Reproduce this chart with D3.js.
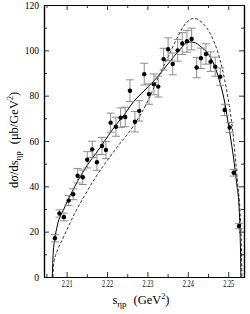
<!DOCTYPE html>
<html>
<head>
<meta charset="utf-8">
<script src="https://cdn.jsdelivr.net/npm/d3@7/dist/d3.min.js"></script>
<style>
  body { margin: 0; background: #fff; }
  svg { display: block; font-family: "Liberation Serif", "Times New Roman", serif; }
</style>
</head>
<body>
<svg id="chart" width="250" height="314"></svg>
<script>
// measured points: s (GeV^2), dsigma/ds, error
const sData = [2.20710, 2.20822, 2.20933, 2.21050, 2.21163, 2.21272, 2.21399, 2.21510, 2.21634, 2.21750,
               2.21874, 2.21973, 2.22089, 2.22220, 2.22337, 2.22450, 2.22567, 2.22691, 2.22797, 2.22921,
               2.23037, 2.23161, 2.23267, 2.23401, 2.23512, 2.23626, 2.23748, 2.23861, 2.23978, 2.24094,
               2.24218, 2.24324, 2.24448, 2.24564, 2.24678, 2.24802, 2.24911, 2.25035, 2.25134, 2.25265]
const vData = [17.1, 28.0, 26.5, 33.7, 36.5, 44.7, 44.0, 51.7, 56.3, 50.6,
               57.8, 56.0, 68.1, 66.3, 70.3, 70.6, 82.2, 68.5, 73.3, 89.5,
               80.7, 85.0, 84.0, 96.1, 100.5, 94.0, 100.0, 103.0, 104.0, 105.0,
               92.4, 96.5, 98.4, 95.0, 92.8, 88.4, 73.7, 66.0, 46.0, 22.5]
const eData = [1.6, 1.6, 1.7, 2.2, 2.4, 3.2, 3.2, 3.6, 3.6, 3.5,
               3.8, 3.8, 4.2, 4.2, 4.3, 4.3, 4.8, 4.5, 4.5, 4.8,
               4.5, 4.6, 4.6, 4.8, 5.0, 4.8, 4.8, 4.8, 4.8, 4.8,
               4.5, 4.5, 4.5, 4.3, 4.2, 3.8, 2.5, 2.2, 1.5, 1.2]

// solid curve
const solidS = [2.20644, 2.20668, 2.20710, 2.20767, 2.20933, 2.21131, 2.21428, 2.21824, 2.22238, 2.22443,
                2.22641, 2.22938, 2.23260, 2.23507, 2.23804, 2.24002, 2.24151, 2.24324, 2.24490, 2.24653,
                2.24777, 2.24901, 2.24985, 2.25067, 2.25149, 2.25208, 2.25272, 2.25295, 2.25307, 2.25312]
const solidV = [0, 10.5, 17, 22.5, 30, 37.5, 47, 57, 67.5, 72,
                77, 82.5, 88.5, 94, 100.3, 103.7, 103.5, 101.6, 98.7, 93.5,
                86.9, 78.1, 69.3, 60.4, 50.2, 41.3, 29.6, 18, 8, 0]

// dashed curve
const dashS = [2.20661, 2.20676, 2.20710, 2.20767, 2.20933, 2.21181, 2.21428, 2.21718, 2.22238, 2.22649,
               2.23020, 2.23267, 2.23515, 2.23723, 2.23953, 2.24158, 2.24366, 2.24572, 2.24738, 2.24861,
               2.24960, 2.25042, 2.25109, 2.25173, 2.25233, 2.25290, 2.25322, 2.25334, 2.25339]
const dashV = [0, 5, 8.5, 11.5, 18, 27.4, 35.4, 44, 57, 66.5,
               78, 88, 97.2, 105, 112, 114.1, 112, 106.8, 99.4, 91.3,
               82.5, 73.7, 64.9, 53.1, 41.3, 29.6, 16, 6, 0]

const xMajor = [2.21, 2.22, 2.23, 2.24, 2.25]
const xMinor = [2.205, 2.215, 2.225, 2.235, 2.245]
const yMajor = [0, 20, 40, 60, 80, 100, 120]
const yMinor = [10, 30, 50, 70, 90, 110]

const margin = {left: 44, top: 5, right: 6, bottom: 37}
const W = 250 - margin.left - margin.right
const H = 314 - margin.top - margin.bottom

const svg = d3.select("#chart")
const g = svg.append("g").attr("transform", `translate(${margin.left},${margin.top})`)

const x = d3.scaleLinear().domain([2.2044, 2.2539]).range([0, W])
const y = d3.scaleLinear().domain([0, 120]).range([H, 0])

// axes with inward ticks on all four sides
const fmtX = d3.format(".2f")
const bottom = g.append("g").attr("transform", `translate(0,${H})`)
    .call(d3.axisBottom(x).tickValues(xMajor).tickSize(-5).tickSizeOuter(0).tickPadding(3).tickFormat(fmtX))
bottom.selectAll("text")
    .attr("font-size", 9.5)
    .attr("font-family", "Liberation Serif")
    .attr("textLength", 11)
    .attr("lengthAdjust", "spacingAndGlyphs")
g.append("g").attr("transform", `translate(0,${H})`)
    .call(d3.axisBottom(x).tickValues(xMinor).tickSize(-3).tickSizeOuter(0).tickFormat(""))

g.append("g").call(d3.axisTop(x).tickValues(xMajor).tickSize(-5).tickSizeOuter(0).tickFormat(""))
g.append("g").call(d3.axisTop(x).tickValues(xMinor).tickSize(-3).tickSizeOuter(0).tickFormat(""))

const left = g.append("g")
    .call(d3.axisLeft(y).tickValues(yMajor).tickSize(-5).tickSizeOuter(0).tickPadding(5))
left.selectAll("text").attr("font-size", 9.5).attr("font-family", "Liberation Serif")
g.append("g").call(d3.axisLeft(y).tickValues(yMinor).tickSize(-3).tickSizeOuter(0).tickFormat(""))

g.append("g").attr("transform", `translate(${W},0)`)
    .call(d3.axisRight(y).tickValues(yMajor).tickSize(-5).tickSizeOuter(0).tickFormat(""))
g.append("g").attr("transform", `translate(${W},0)`)
    .call(d3.axisRight(y).tickValues(yMinor).tickSize(-3).tickSizeOuter(0).tickFormat(""))

g.selectAll(".domain").attr("stroke", "#000").attr("stroke-width", 1.2)
g.selectAll(".tick line").attr("stroke", "#000").attr("stroke-width", 0.8)

// curves
const line = d3.line().x(d => x(d[0])).y(d => y(d[1])).curve(d3.curveMonotoneX)

g.append("path")
    .datum(solidS.map((s, i) => [s, solidV[i]]))
    .attr("d", line)
    .attr("fill", "none")
    .attr("stroke", "#000")
    .attr("stroke-width", 1)

g.append("path")
    .datum(dashS.map((s, i) => [s, dashV[i]]))
    .attr("d", line)
    .attr("fill", "none")
    .attr("stroke", "#000")
    .attr("stroke-width", 0.8)
    .attr("stroke-dasharray", "3,2")

// data with error bars
const pts = sData.map((s, i) => ({s: s, v: vData[i], e: eData[i]}))
const eb = g.append("g").attr("stroke", "#808080").attr("stroke-width", 0.9)
eb.selectAll("line.v").data(pts).join("line").attr("class", "v")
    .attr("x1", d => x(d.s)).attr("x2", d => x(d.s))
    .attr("y1", d => y(d.v - d.e)).attr("y2", d => y(d.v + d.e))
eb.selectAll("line.t").data(pts).join("line").attr("class", "t")
    .attr("x1", d => x(d.s) - 4).attr("x2", d => x(d.s) + 4)
    .attr("y1", d => y(d.v + d.e)).attr("y2", d => y(d.v + d.e))
eb.selectAll("line.b").data(pts).join("line").attr("class", "b")
    .attr("x1", d => x(d.s) - 4).attr("x2", d => x(d.s) + 4)
    .attr("y1", d => y(d.v - d.e)).attr("y2", d => y(d.v - d.e))

g.selectAll("circle.pt").data(pts).join("circle").attr("class", "pt")
    .attr("cx", d => x(d.s)).attr("cy", d => y(d.v)).attr("r", 2.2)
    .attr("fill", "#000")

// axis titles
const xt = svg.append("text")
    .attr("x", 141).attr("y", 304)
    .attr("text-anchor", "middle")
    .attr("font-size", 12.5)
xt.append("tspan").text("s")
xt.append("tspan").attr("font-size", 9).attr("dy", 3).text("ηp")
xt.append("tspan").attr("dy", -3).attr("dx", 7).text("(GeV")
xt.append("tspan").attr("font-size", 8).attr("dy", -5).text("2")
xt.append("tspan").attr("dy", 5).text(")")

const yt = svg.append("text")
    .attr("transform", "translate(18,140) rotate(-90)")
    .attr("text-anchor", "middle")
    .attr("font-size", 12.5)
yt.append("tspan").text("dσ/ds")
yt.append("tspan").attr("font-size", 9).attr("dy", 3).text("ηp")
yt.append("tspan").attr("dy", -3).attr("dx", 7).text("(μb/GeV")
yt.append("tspan").attr("font-size", 8).attr("dy", -5).text("2")
yt.append("tspan").attr("dy", 5).text(")")
</script>
</body>
</html>
